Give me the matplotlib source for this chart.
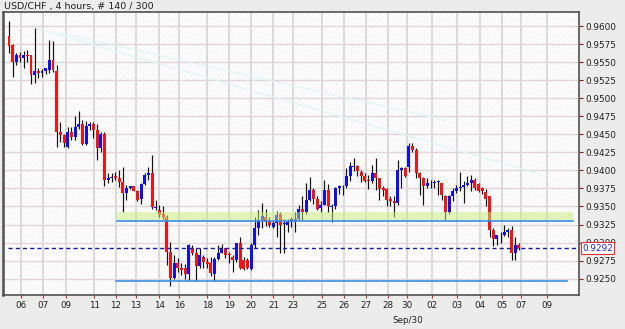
import matplotlib
matplotlib.use("Agg")
import matplotlib.pyplot as plt
from matplotlib.patches import Rectangle
import matplotlib.transforms as mtransforms

title = "USD/CHF , 4 hours, # 140 / 300"

opens = [0.9587, 0.9574, 0.9550, 0.9560, 0.9556, 0.9560, 0.9560, 0.9532, 0.9538, 0.9536,
         0.9538, 0.9540, 0.9553, 0.9538, 0.9454, 0.9449, 0.9432, 0.9454, 0.9447, 0.9460,
         0.9464, 0.9437, 0.9462, 0.9465, 0.9456, 0.9431, 0.9451, 0.9387, 0.9390, 0.9392,
         0.9389, 0.9384, 0.9369, 0.9376, 0.9378, 0.9372, 0.9361, 0.9381, 0.9394, 0.9396,
         0.9348, 0.9345, 0.9339, 0.9336, 0.9287, 0.9251, 0.9271, 0.9264, 0.9264, 0.9256,
         0.9293, 0.9286, 0.9268, 0.9280, 0.9273, 0.9272, 0.9256, 0.9277, 0.9286, 0.9292,
         0.9284, 0.9280, 0.9276, 0.9300, 0.9276, 0.9276, 0.9263, 0.9297, 0.9320, 0.9331,
         0.9336, 0.9329, 0.9322, 0.9327, 0.9340, 0.9326, 0.9325, 0.9329, 0.9330, 0.9333,
         0.9347, 0.9343, 0.9359, 0.9373, 0.9361, 0.9348, 0.9352, 0.9373, 0.9349, 0.9350,
         0.9376, 0.9378, 0.9378, 0.9393, 0.9405, 0.9406, 0.9398, 0.9393, 0.9387, 0.9385,
         0.9397, 0.9389, 0.9376, 0.9374, 0.9361, 0.9357, 0.9355, 0.9401, 0.9404, 0.9405,
         0.9434, 0.9428, 0.9396, 0.9389, 0.9378, 0.9382, 0.9382, 0.9384, 0.9383, 0.9364,
         0.9343, 0.9365, 0.9372, 0.9376, 0.9377, 0.9380, 0.9383, 0.9387, 0.9381, 0.9376,
         0.9370, 0.9364, 0.9318, 0.9305, 0.9310, 0.9310, 0.9315, 0.9318, 0.9285, 0.9296]
highs = [0.9608, 0.9575, 0.9563, 0.9564, 0.9566, 0.9567, 0.9561, 0.9598, 0.9542, 0.9541,
         0.9543, 0.9581, 0.9580, 0.9546, 0.9468, 0.9451, 0.9460, 0.9460, 0.9476, 0.9483,
         0.9470, 0.9469, 0.9467, 0.9467, 0.9465, 0.9453, 0.9453, 0.9396, 0.9397, 0.9398,
         0.9400, 0.9405, 0.9380, 0.9379, 0.9379, 0.9373, 0.9382, 0.9396, 0.9405, 0.9422,
         0.9359, 0.9352, 0.9350, 0.9338, 0.9301, 0.9282, 0.9278, 0.9272, 0.9270, 0.9298,
         0.9297, 0.9292, 0.9292, 0.9282, 0.9278, 0.9280, 0.9280, 0.9297, 0.9298, 0.9293,
         0.9287, 0.9282, 0.9300, 0.9307, 0.9280, 0.9278, 0.9300, 0.9336, 0.9345, 0.9355,
         0.9346, 0.9336, 0.9330, 0.9344, 0.9342, 0.9333, 0.9333, 0.9335, 0.9342, 0.9352,
         0.9364, 0.9382, 0.9391, 0.9375, 0.9364, 0.9357, 0.9387, 0.9381, 0.9353, 0.9377,
         0.9380, 0.9380, 0.9403, 0.9412, 0.9417, 0.9408, 0.9401, 0.9396, 0.9394, 0.9408,
         0.9417, 0.9390, 0.9378, 0.9376, 0.9364, 0.9364, 0.9415, 0.9405, 0.9405, 0.9438,
         0.9438, 0.9431, 0.9398, 0.9391, 0.9389, 0.9387, 0.9387, 0.9387, 0.9383, 0.9366,
         0.9366, 0.9376, 0.9380, 0.9398, 0.9385, 0.9393, 0.9394, 0.9389, 0.9383, 0.9377,
         0.9374, 0.9364, 0.9320, 0.9311, 0.9315, 0.9324, 0.9320, 0.9323, 0.9307, 0.9300]
lows = [0.9563, 0.9530, 0.9547, 0.9551, 0.9543, 0.9551, 0.9520, 0.9521, 0.9529, 0.9530,
        0.9534, 0.9536, 0.9537, 0.9433, 0.9440, 0.9433, 0.9431, 0.9442, 0.9442, 0.9458,
        0.9436, 0.9435, 0.9456, 0.9445, 0.9414, 0.9425, 0.9379, 0.9382, 0.9384, 0.9387,
        0.9377, 0.9343, 0.9359, 0.9374, 0.9371, 0.9357, 0.9353, 0.9380, 0.9387, 0.9347,
        0.9345, 0.9336, 0.9333, 0.9269, 0.9239, 0.9250, 0.9259, 0.9255, 0.9250, 0.9248,
        0.9283, 0.9247, 0.9264, 0.9264, 0.9265, 0.9253, 0.9246, 0.9276, 0.9285, 0.9279,
        0.9272, 0.9259, 0.9273, 0.9263, 0.9262, 0.9263, 0.9262, 0.9292, 0.9310, 0.9320,
        0.9323, 0.9322, 0.9320, 0.9308, 0.9285, 0.9285, 0.9315, 0.9322, 0.9315, 0.9331,
        0.9331, 0.9340, 0.9358, 0.9354, 0.9345, 0.9343, 0.9352, 0.9343, 0.9328, 0.9347,
        0.9368, 0.9366, 0.9375, 0.9385, 0.9399, 0.9392, 0.9384, 0.9384, 0.9374, 0.9382,
        0.9373, 0.9359, 0.9364, 0.9350, 0.9350, 0.9335, 0.9352, 0.9376, 0.9391, 0.9398,
        0.9426, 0.9389, 0.9366, 0.9352, 0.9375, 0.9376, 0.9376, 0.9366, 0.9359, 0.9331,
        0.9340, 0.9357, 0.9369, 0.9372, 0.9355, 0.9378, 0.9371, 0.9373, 0.9370, 0.9368,
        0.9350, 0.9308, 0.9295, 0.9297, 0.9299, 0.9309, 0.9308, 0.9276, 0.9276, 0.9290]
closes = [0.9573, 0.9550, 0.9560, 0.9556, 0.9560, 0.9559, 0.9532, 0.9538, 0.9536, 0.9538,
          0.9542, 0.9553, 0.9540, 0.9454, 0.9449, 0.9438, 0.9454, 0.9447, 0.9460, 0.9464,
          0.9437, 0.9462, 0.9465, 0.9456, 0.9431, 0.9451, 0.9387, 0.9390, 0.9391, 0.9389,
          0.9384, 0.9369, 0.9376, 0.9378, 0.9372, 0.9359, 0.9381, 0.9394, 0.9396, 0.9349,
          0.9349, 0.9338, 0.9336, 0.9287, 0.9251, 0.9271, 0.9264, 0.9262, 0.9256, 0.9296,
          0.9286, 0.9268, 0.9282, 0.9273, 0.9270, 0.9258, 0.9277, 0.9286, 0.9292, 0.9282,
          0.9282, 0.9276, 0.9300, 0.9264, 0.9263, 0.9264, 0.9297, 0.9320, 0.9331, 0.9337,
          0.9329, 0.9324, 0.9327, 0.9338, 0.9325, 0.9327, 0.9329, 0.9332, 0.9333, 0.9347,
          0.9342, 0.9359, 0.9373, 0.9361, 0.9347, 0.9352, 0.9373, 0.9350, 0.9350, 0.9376,
          0.9378, 0.9379, 0.9393, 0.9406, 0.9406, 0.9399, 0.9392, 0.9386, 0.9385, 0.9397,
          0.9389, 0.9374, 0.9373, 0.9359, 0.9357, 0.9355, 0.9401, 0.9403, 0.9392, 0.9434,
          0.9428, 0.9396, 0.9389, 0.9378, 0.9382, 0.9383, 0.9384, 0.9385, 0.9366, 0.9343,
          0.9364, 0.9372, 0.9376, 0.9377, 0.9380, 0.9383, 0.9387, 0.9376, 0.9372, 0.9372,
          0.9361, 0.9317, 0.9305, 0.9310, 0.9311, 0.9315, 0.9318, 0.9285, 0.9297, 0.9292]

day_tick_pos = [3.3, 9.35, 15.5, 23.2, 29.1, 34.6, 41.0, 46.4, 54.1, 60.1, 65.9, 72.1,
                77.5, 85.3, 91.4, 97.3, 103.3, 108.6, 115.4, 122.1, 128.4, 134.3, 139.7, 146.6]
day_tick_labels = ["06", "07", "09", "11", "12", "13", "14", "16", "18", "19", "20", "21",
                   "23", "25", "26", "27", "28", "30", "02", "03", "04", "05", "07", "09"]
month_label = "Sep/30"
month_label_pos = 108.6

price_ticks = [0.9250, 0.9275, 0.9300, 0.9325, 0.9350, 0.9375, 0.9400, 0.9425,
               0.9450, 0.9475, 0.9500, 0.9525, 0.9550, 0.9575, 0.9600]
price_tick_labels = ["0.9250", "0.9275", "0.9300", "0.9325", "0.9350", "0.9375", "0.9400",
                     "0.9425", "0.9450", "0.9475", "0.9500", "0.9525", "0.9550", "0.9575", "0.9600"]

last_price = 0.9292
last_price_label = "0.9292"
zone_low, zone_high = 0.9331, 0.9342
zone_span = [29.5, 153.8]
upper_level = 0.9330
upper_level_span = [29.5, 153.8]
lower_level = 0.9247
lower_level_span = [29.2, 152.2]
trend_a_x, trend_a_y = [7.1, 144.8], [0.9598, 0.9395]
trend_b_x, trend_b_y = [13.9, 118.9], [0.9591, 0.9470]

W, H = 625, 329
fig = plt.figure(figsize=(W / 100, H / 100), dpi=100, facecolor="#ececec")
ax = fig.add_axes([3 / W, 1 - 295 / H, 576 / W, 283 / H])
ax.set_facecolor("#fcfcfc")
ax.set_xlim(-1.64, 155.4)
ax.set_ylim(0.92271, 0.96201)

plt.rcParams["hatch.linewidth"] = 0.5
ax.add_patch(Rectangle((0, 0), 1, 1, transform=ax.transAxes, facecolor="none",
                       edgecolor="#f2f2f2", hatch="//////", lw=0, zorder=0))

# grid
for p in price_ticks:
    ax.axhline(p, color="#e0d6d6", lw=1.0, zorder=0.5)
for x in day_tick_pos:
    ax.axvline(x, color="#dadada", lw=1.4, zorder=0.5)

# trend lines
ax.plot(trend_a_x, trend_a_y, color="#def5f6", lw=0.9, zorder=1)
ax.plot(trend_b_x, trend_b_y, color="#def5f6", lw=0.9, zorder=1)

# candles
xs = list(range(len(opens)))
ax.vlines(xs, lows, highs, color="#111111", lw=0.85, zorder=2)
bottoms = [min(o, c) for o, c in zip(opens, closes)]
heights = [max(abs(c - o), 0.00005) for o, c in zip(opens, closes)]
cols = ["#1010e8" if c >= o else "#f01414" for o, c in zip(opens, closes)]
ax.bar(xs, heights, bottom=bottoms, width=0.8, color=cols, lw=0, zorder=2.2)

# zone and levels
ax.fill_between(zone_span, zone_low, zone_high, color="#c8f07a", alpha=0.5, lw=0, zorder=3)
ax.plot(upper_level_span, [upper_level, upper_level], color="#3d8ee0", lw=1.2, zorder=3.2)
ax.plot(lower_level_span, [lower_level, lower_level], color="#3d8ee0", lw=1.2, zorder=3.2)
ax.plot([-0.2, 155.4], [last_price, last_price], color="#1a1a9a", lw=1.0,
        dashes=(3, 2.2), zorder=3.3)

# axes styling
for s in ax.spines.values():
    s.set_color("#505050")
    s.set_linewidth(1.2)
ax.spines["left"].set_linewidth(1.8)

ax.yaxis.tick_right()
ax.set_yticks(price_ticks)
ax.set_yticklabels(price_tick_labels)
ax.set_xticks(day_tick_pos)
ax.set_xticklabels(day_tick_labels)
ax.tick_params(axis="y", direction="out", length=3, width=0.8, pad=1.5,
               labelsize=6.4, color="#8a2020", labelcolor="#202020")
ax.tick_params(axis="x", direction="out", length=2, width=0.8, pad=2,
               labelsize=6.3, color="#c03030", labelcolor="#202020")

trans = mtransforms.blended_transform_factory(ax.transData, ax.transAxes)
ax.text(month_label_pos, -0.075, month_label, transform=trans, ha="center", va="top",
        fontsize=6.3, color="#202020")

trans2 = mtransforms.blended_transform_factory(ax.transAxes, ax.transData)
ax.annotate(last_price_label, xy=(1.0, last_price), xycoords=trans2,
            xytext=(2.3, 0), textcoords="offset points", ha="left", va="center",
            fontsize=6.4, color="#2323d0", zorder=10, annotation_clip=False,
            bbox=dict(boxstyle="square,pad=0.15", fc="white", ec="#e03030", lw=0.8))

fig.text(4 / W, 1 - 6.5 / H, title, fontsize=6.8, ha="left", va="center", color="#202020")

fig.savefig("out.png", dpi=100, facecolor=fig.get_facecolor())
